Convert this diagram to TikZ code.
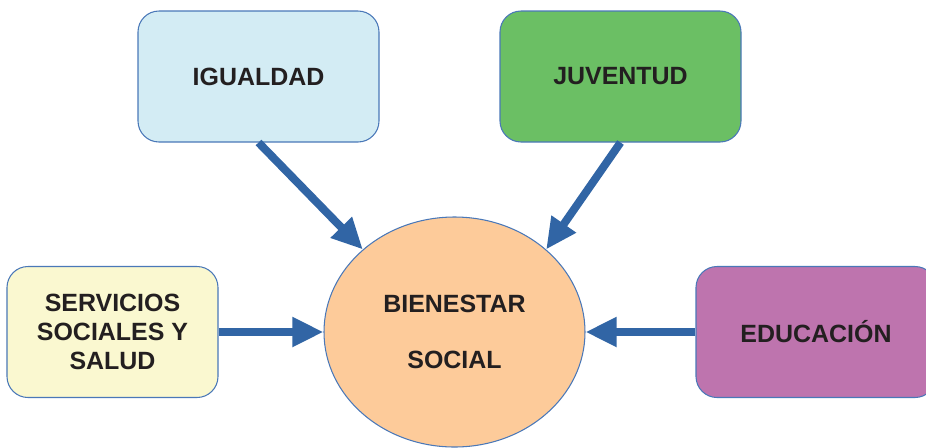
\documentclass[tikz,border=0pt]{standalone}
\usepackage{fontspec}
\setmainfont{Liberation Sans}
\usetikzlibrary{shapes.geometric, positioning, arrows.meta}
\definecolor{linkblue}{HTML}{3165A5}
\definecolor{edgeblue}{HTML}{4A78B8}
\definecolor{txt}{HTML}{231F20}
\definecolor{celeste}{HTML}{D3ECF4}
\definecolor{verde}{HTML}{6BBF64}
\definecolor{crema}{HTML}{FAF8D0}
\definecolor{malva}{HTML}{BE74AE}
\definecolor{melon}{HTML}{FDCB9A}
\tikzset{
  >={Triangle[length=0.62cm, width=0.56cm]}, % big filled arrow heads
  link/.style={->, draw=linkblue, line width=0.16cm}, % the thick blue arrows
  area/.style={draw=edgeblue, line width=0.6pt, rounded corners=0.42cm, text=txt,
    minimum height=2.62cm, inner sep=0pt, align=center,
    font=\fontsize{14.2}{16.3}\selectfont\bfseries}, % the rounded boxes
}

\begin{document}
\begin{tikzpicture}[on grid]
  \useasboundingbox (0,0) rectangle (18.52,-8.94);
  \node[ellipse, draw=edgeblue, line width=0.6pt, fill=melon, text=txt,
    minimum width=5.22cm, minimum height=4.6cm, inner sep=0pt, align=center,
    font=\fontsize{14.2}{32.3}\selectfont\bfseries] (bien) at (9.09,-6.64) {BIENESTAR\\SOCIAL};
  \node[area, fill=celeste, minimum width=4.82cm, above left=5.11cm and 3.92cm of bien] (igual) {IGUALDAD};
  \node[area, fill=verde, minimum width=4.82cm, above right=5.11cm and 3.32cm of bien] (juv) {JUVENTUD};
  \node[area, fill=crema, minimum width=4.22cm, left=6.84cm of bien] (serv) {SERVICIOS\\SOCIALES Y\\SALUD};
  \node[area, fill=malva, minimum width=4.8cm, right=7.23cm of bien] (edu) {EDUCACIÓN};

  \draw[link] (igual.south) -- (bien.138);
  \draw[link] (juv.south) -- (bien.42);
  \draw[link] (serv.east) -- (bien.west);
  \draw[link] (edu.west) -- (bien.east);
\end{tikzpicture}
\end{document}
